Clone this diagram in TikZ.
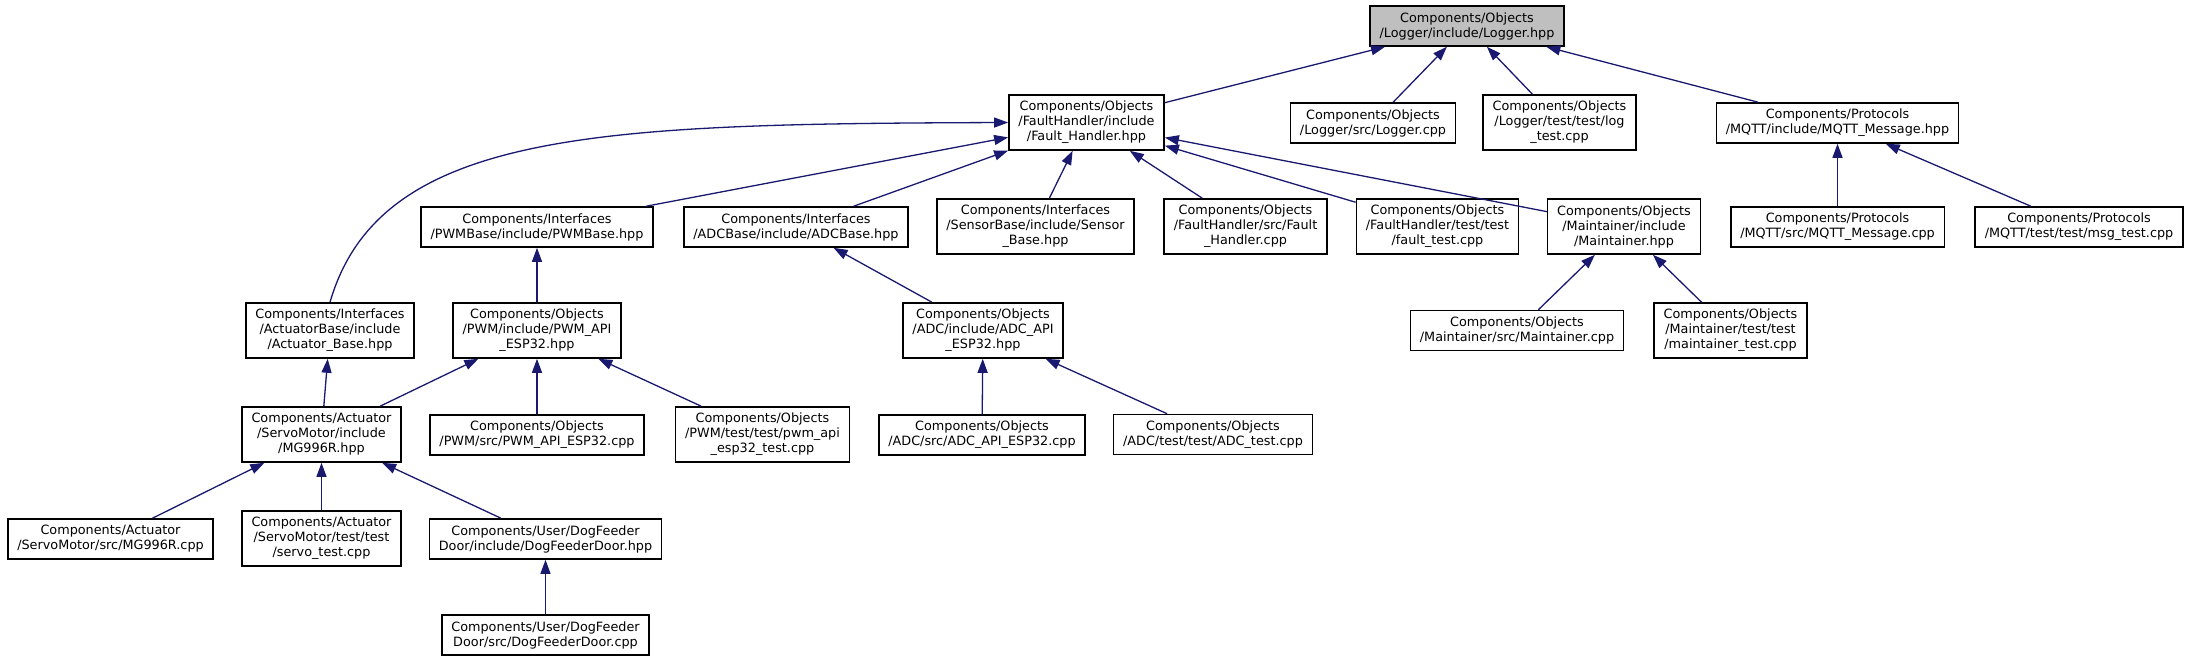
\documentclass[tikz,border=0pt]{standalone}
\usepackage{fontspec}
\setmainfont{DejaVu Sans}
\usetikzlibrary{arrows.meta}
\definecolor{depblue}{HTML}{191970}
\tikzset{
 filebox/.style={draw,line width=1.6pt,fill=white,align=center,inner xsep=9.5pt,inner ysep=0pt,font=\fontsize{12.8}{15}\selectfont},
 rootbox/.style={filebox,fill=gray!50},
 lines2/.style={minimum height=40pt},
 lines3/.style={minimum height=55pt},
 dep/.style={draw=depblue,line width=1.3pt,-{Triangle[length=14pt,width=10pt]}}
}
\begin{document}
\begin{tikzpicture}[x=1pt,y=-1pt]
\path[use as bounding box] (0,0) rectangle (2191,661);
\node[rootbox,lines2] (logger) at (1467,26) {Components/Objects\\/Logger/include/Logger.hpp};
\node[filebox,lines3] (fault) at (1086.5,122.5) {Components/Objects\\/FaultHandler/include\\/Fault\_Handler.hpp};
\node[filebox,lines2] (loggercpp) at (1373,123) {Components/Objects\\/Logger/src/Logger.cpp};
\node[filebox,lines3] (logtest) at (1559.5,122.5) {Components/Objects\\/Logger/test/test/log\\\_test.cpp};
\node[filebox,lines2] (mqtthpp) at (1837.5,123) {Components/Protocols\\/MQTT/include/MQTT\_Message.hpp};
\node[filebox,lines2] (pwmbase) at (537,227) {Components/Interfaces\\/PWMBase/include/PWMBase.hpp};
\node[filebox,lines2] (adcbase) at (796,227) {Components/Interfaces\\/ADCBase/include/ADCBase.hpp};
\node[filebox,lines3] (sensorbase) at (1035.5,226.5) {Components/Interfaces\\/SensorBase/include/Sensor\\\_Base.hpp};
\node[filebox,lines3] (faultcpp) at (1245.5,226.5) {Components/Objects\\/FaultHandler/src/Fault\\\_Handler.cpp};
\node[filebox,lines3] (faulttest) at (1437.5,226.5) {Components/Objects\\/FaultHandler/test/test\\/fault\_test.cpp};
\node[filebox,lines3] (maintainer) at (1624,226.5) {Components/Objects\\/Maintainer/include\\/Maintainer.hpp};
\node[filebox,lines2] (mqttcpp) at (1837.5,227) {Components/Protocols\\/MQTT/src/MQTT\_Message.cpp};
\node[filebox,lines2] (msgtest) at (2079,227) {Components/Protocols\\/MQTT/test/test/msg\_test.cpp};
\node[filebox,lines3] (actbase) at (330,330.5) {Components/Interfaces\\/ActuatorBase/include\\/Actuator\_Base.hpp};
\node[filebox,lines3] (pwmapihpp) at (537,330.5) {Components/Objects\\/PWM/include/PWM\_API\\\_ESP32.hpp};
\node[filebox,lines3] (adcapihpp) at (983,330.5) {Components/Objects\\/ADC/include/ADC\_API\\\_ESP32.hpp};
\node[filebox,lines2] (maintcpp) at (1517,330.5) {Components/Objects\\/Maintainer/src/Maintainer.cpp};
\node[filebox,lines3] (mainttest) at (1730.5,330.5) {Components/Objects\\/Maintainer/test/test\\/maintainer\_test.cpp};
\node[filebox,lines3] (mg996rhpp) at (321.5,434.5) {Components/Actuator\\/ServoMotor/include\\/MG996R.hpp};
\node[filebox,lines2] (pwmapicpp) at (537,435) {Components/Objects\\/PWM/src/PWM\_API\_ESP32.cpp};
\node[filebox,lines3] (pwmapitest) at (762.5,434.5) {Components/Objects\\/PWM/test/test/pwm\_api\\\_esp32\_test.cpp};
\node[filebox,lines2] (adcapicpp) at (982,435) {Components/Objects\\/ADC/src/ADC\_API\_ESP32.cpp};
\node[filebox,lines2] (adctest) at (1213,434.5) {Components/Objects\\/ADC/test/test/ADC\_test.cpp};
\node[filebox,lines2] (mg996rcpp) at (110.5,539) {Components/Actuator\\/ServoMotor/src/MG996R.cpp};
\node[filebox,lines3] (servotest) at (321.5,538.5) {Components/Actuator\\/ServoMotor/test/test\\/servo\_test.cpp};
\node[filebox,lines2] (dogdoorhpp) at (545.5,539) {Components/User/DogFeeder\\Door/include/DogFeederDoor.hpp};
\node[filebox,lines2] (dogdoorcpp) at (545.5,635) {Components/User/DogFeeder\\Door/src/DogFeederDoor.cpp};
\draw[dep] (fault) -- (logger);
\draw[dep] (loggercpp) -- (logger);
\draw[dep] (logtest) -- (logger);
\draw[dep] (mqtthpp) -- (logger);
\draw[dep] (actbase.north) .. controls (380,130) and (600,124) .. (fault.west);
\draw[dep] (pwmbase) -- (fault);
\draw[dep] (adcbase) -- (fault);
\draw[dep] (sensorbase) -- (fault);
\draw[dep] (faultcpp) -- (fault);
\draw[dep] (faulttest) -- (fault);
\draw[dep] (maintainer) -- (fault);
\draw[dep] (mqttcpp) -- (mqtthpp);
\draw[dep] (msgtest) -- (mqtthpp);
\draw[dep] (pwmapihpp) -- (pwmbase);
\draw[dep] (adcapihpp) -- (adcbase);
\draw[dep] (maintcpp) -- (maintainer);
\draw[dep] (mainttest) -- (maintainer);
\draw[dep] (mg996rhpp) -- (actbase);
\draw[dep] (mg996rhpp) -- (pwmapihpp);
\draw[dep] (pwmapicpp) -- (pwmapihpp);
\draw[dep] (pwmapitest) -- (pwmapihpp);
\draw[dep] (adcapicpp) -- (adcapihpp);
\draw[dep] (adctest) -- (adcapihpp);
\draw[dep] (mg996rcpp) -- (mg996rhpp);
\draw[dep] (servotest) -- (mg996rhpp);
\draw[dep] (dogdoorhpp) -- (mg996rhpp);
\draw[dep] (dogdoorcpp) -- (dogdoorhpp);
\end{tikzpicture}
\end{document}
